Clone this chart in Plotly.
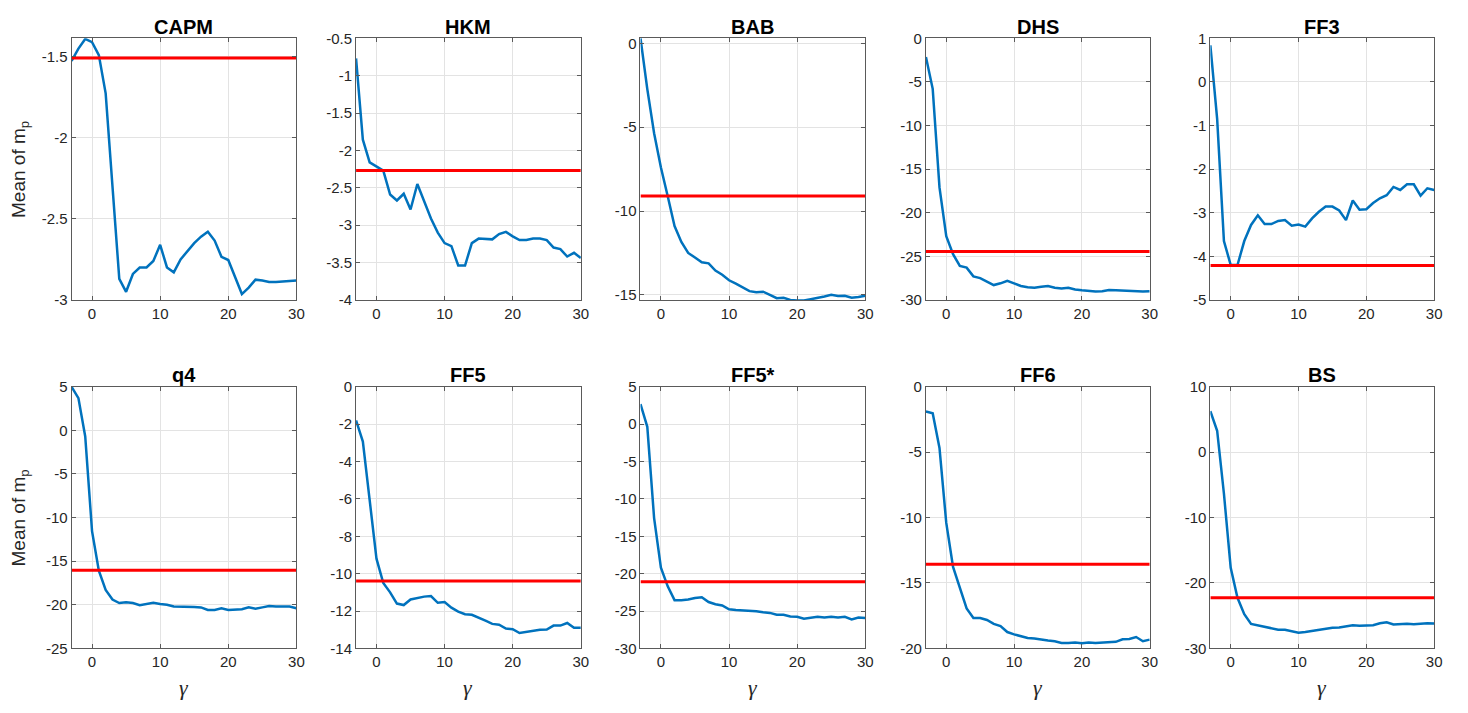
import plotly.graph_objects as go

# ---------------- data ----------------
gamma = list(range(-3, 31))

names = ["CAPM", "HKM", "BAB", "DHS", "FF3", "q4", "FF5", "FF5*", "FF6", "BS"]

capm = [-1.526, -1.45, -1.39, -1.41, -1.49, -1.726, -2.30, -2.87, -2.95, -2.84, -2.80, -2.80,
        -2.76, -2.66, -2.80, -2.83, -2.75, -2.70, -2.65, -2.61, -2.58, -2.634, -2.734, -2.754,
        -2.854, -2.964, -2.924, -2.875, -2.88, -2.89, -2.89, -2.886, -2.886, -2.88]
hkm = [-0.77, -1.856, -2.16, -2.21, -2.27, -2.59, -2.67, -2.58, -2.79, -2.45, -2.69, -2.91,
       -3.10, -3.24, -3.28, -3.54, -3.54, -3.24, -3.18, -3.18, -3.19, -3.12, -3.09, -3.15,
       -3.20, -3.20, -3.18, -3.18, -3.20, -3.30, -3.32, -3.42, -3.37, -3.44]
bab = [0.30, -2.73, -5.36, -7.40, -9.12, -10.9, -11.85, -12.5, -12.77, -13.06, -13.12, -13.55,
       -13.8, -14.13, -14.33, -14.58, -14.78, -14.85, -14.81, -15.0, -15.2, -15.17, -15.3,
       -15.34, -15.34, -15.26, -15.2, -15.1, -15.0, -15.07, -15.05, -15.17, -15.13, -15.05]
dhs = [-2.14, -5.8, -17.1, -22.7, -24.75, -26.1, -26.3, -27.3, -27.5, -27.9, -28.3, -28.1,
       -27.8, -28.1, -28.4, -28.55, -28.6, -28.5, -28.4, -28.6, -28.7, -28.6, -28.8, -28.9,
       -28.98, -29.05, -29.0, -28.87, -28.9, -28.95, -28.95, -29.05, -29.05, -29.0]
ff3 = [0.84, -0.85, -3.65, -4.2, -4.2, -3.65, -3.28, -3.06, -3.26, -3.26, -3.19, -3.17,
       -3.30, -3.27, -3.32, -3.13, -2.98, -2.86, -2.86, -2.95, -3.17, -2.72, -2.93, -2.92,
       -2.78, -2.67, -2.60, -2.41, -2.48, -2.35, -2.35, -2.61, -2.44, -2.48]
q4 = [5.0, 3.7, -0.7, -11.55, -16.1, -18.3, -19.4, -19.8, -19.7, -19.8, -20.05, -19.95,
      -19.77, -19.9, -20.0, -20.2, -20.2, -20.2, -20.25, -20.3, -20.6, -20.6, -20.4, -20.6,
      -20.55, -20.5, -20.3, -20.45, -20.3, -20.15, -20.2, -20.2, -20.2, -20.4]
ff5 = [-1.8, -2.93, -6.07, -9.2, -10.5, -11.0, -11.6, -11.68, -11.38, -11.3, -11.23, -11.2,
       -11.56, -11.52, -11.82, -12.03, -12.17, -12.2, -12.34, -12.52, -12.69, -12.73, -12.94,
       -12.97, -13.18, -13.13, -13.07, -13.0, -12.99, -12.78, -12.78, -12.64, -12.9, -12.9]
ff5s = [2.69, -0.36, -12.57, -19.2, -21.7, -23.55, -23.55, -23.47, -23.25, -23.16, -23.8,
        -24.1, -24.25, -24.77, -24.86, -24.9, -24.9, -25.03, -25.17, -25.25, -25.5, -25.5,
        -25.73, -25.78, -26.04, -25.86, -25.78, -25.86, -25.78, -25.86, -25.78, -26.12,
        -25.86, -25.95]
ff6 = [-1.89, -2.02, -4.68, -10.41, -13.77, -15.39, -16.94, -17.68, -17.68, -17.83, -18.13,
       -18.3, -18.75, -18.93, -19.08, -19.2, -19.25, -19.35, -19.4, -19.45, -19.58, -19.58,
       -19.55, -19.6, -19.55, -19.58, -19.55, -19.5, -19.5, -19.3, -19.28, -19.13, -19.45,
       -19.33]
bs = [6.27, 3.28, -6.33, -17.69, -22.27, -24.76, -26.25, -26.5, -26.65, -26.95, -27.15,
      -27.15, -27.35, -27.6, -27.5, -27.35, -27.15, -26.95, -26.85, -26.8, -26.65, -26.45,
      -26.55, -26.45, -26.45, -26.15, -26.0, -26.35, -26.25, -26.25, -26.3, -26.2, -26.15,
      -26.2]

series = [capm, hkm, bab, dhs, ff3, q4, ff5, ff5s, ff6, bs]

# benchmark (red horizontal) levels
benchmark = [-1.508, -2.27, -9.1, -24.45, -4.21, -16.05, -10.39, -21.07, -13.57, -22.27]

# y-axis ranges and tick values
y_ranges = [[-3, -1.386], [-4, -0.5], [-15.3, 0.3], [-30, 0], [-5, 1],
            [-25, 5], [-14, 0], [-30, 5], [-20, 0], [-30, 10]]
y_ticks = [[-3, -2.5, -2, -1.5],
           [-4, -3.5, -3, -2.5, -2, -1.5, -1, -0.5],
           [-15, -10, -5, 0],
           [-30, -25, -20, -15, -10, -5, 0],
           [-5, -4, -3, -2, -1, 0, 1],
           [-25, -20, -15, -10, -5, 0, 5],
           [-14, -12, -10, -8, -6, -4, -2, 0],
           [-30, -25, -20, -15, -10, -5, 0, 5],
           [-20, -15, -10, -5, 0],
           [-30, -20, -10, 0, 10]]
x_ticks = [0, 10, 20, 30]
x_range = [-3, 30]

y_label = "Mean of m<sub>p</sub>"
x_label = "<i>γ</i>"

# ---------------- layout ----------------
W, H = 1468, 713
col_px = [(72, 298), (358, 584), (644, 870), (931, 1156), (1217, 1442)]
row_px = [(30, 298), (387, 655)]

BLUE = "#0072BD"
RED = "#FF0000"
AX = "#5a5a5a"
GRID = "#e3e3e3"
TXT = "#262626"
FONT = "Arial, Liberation Sans, Helvetica, sans-serif"
SERIF = "Liberation Serif, Times New Roman, serif"


def fmt(v):
    return "%g" % v


fig = go.Figure()
annotations = []
layout_axes = {}

for i, name in enumerate(names):
    r, c = divmod(i, 5)
    k = i + 1
    xa = "xaxis" if k == 1 else "xaxis%d" % k
    ya = "yaxis" if k == 1 else "yaxis%d" % k
    xr = "x" if k == 1 else "x%d" % k
    yr = "y" if k == 1 else "y%d" % k
    x0, x1 = col_px[c]
    y0, y1 = row_px[r]

    common = dict(showline=True, mirror="ticks", linecolor=AX, linewidth=1,
                  ticks="inside", ticklen=4, tickcolor=AX, tickwidth=1,
                  showgrid=True, gridcolor=GRID, gridwidth=1, zeroline=False,
                  tickfont=dict(family=FONT, size=15, color=TXT))
    layout_axes[xa] = dict(common, domain=[x0 / W, x1 / W], anchor=yr,
                           range=x_range, tickvals=x_ticks,
                           ticktext=[fmt(v) for v in x_ticks])
    layout_axes[ya] = dict(common, domain=[1 - y1 / H, 1 - y0 / H], anchor=xr,
                           range=y_ranges[i], tickvals=y_ticks[i],
                           ticktext=[fmt(v) for v in y_ticks[i]])

    fig.add_trace(go.Scatter(x=gamma, y=series[i], mode="lines",
                             line=dict(color=BLUE, width=2.5),
                             xaxis=xr, yaxis=yr, showlegend=False))
    fig.add_trace(go.Scatter(x=[x_range[0], x_range[1]], y=[benchmark[i], benchmark[i]],
                             mode="lines", line=dict(color=RED, width=3),
                             xaxis=xr, yaxis=yr, showlegend=False))

    # panel title
    annotations.append(dict(text="<b>%s</b>" % name, x=(x0 + x1) / 2 / W,
                            y=1 - (y0 - 12) / H, xref="paper", yref="paper",
                            xanchor="center", yanchor="middle", showarrow=False,
                            font=dict(family=FONT, size=20, color="#000000")))
    if c == 0:
        annotations.append(dict(text=y_label, x=20 / W, y=1 - (y0 + y1) / 2 / H,
                                xref="paper", yref="paper", textangle=-90,
                                xanchor="center", yanchor="middle", showarrow=False,
                                font=dict(family=FONT, size=19, color=TXT)))
    if r == 1:
        annotations.append(dict(text=x_label, x=(x0 + x1) / 2 / W, y=1 - 695 / H,
                                xref="paper", yref="paper", xanchor="center",
                                yanchor="middle", showarrow=False,
                                font=dict(family=SERIF, size=22, color=TXT)))

fig.update_layout(width=W, height=H, margin=dict(l=0, r=0, t=0, b=0),
                  plot_bgcolor="white", paper_bgcolor="white",
                  annotations=annotations, **layout_axes)

post = ("var d=document.getElementById('{plot_id}');"
        "d.style.position='fixed';d.style.top='0px';d.style.left='0px';"
        "document.documentElement.style.margin='0';document.body.style.margin='0';"
        "document.documentElement.style.overflow='hidden';"
        "document.body.style.overflow='hidden';window.scrollTo(0,0);")

fig.write_html("out.html", config={"displayModeBar": False}, post_script=post)
